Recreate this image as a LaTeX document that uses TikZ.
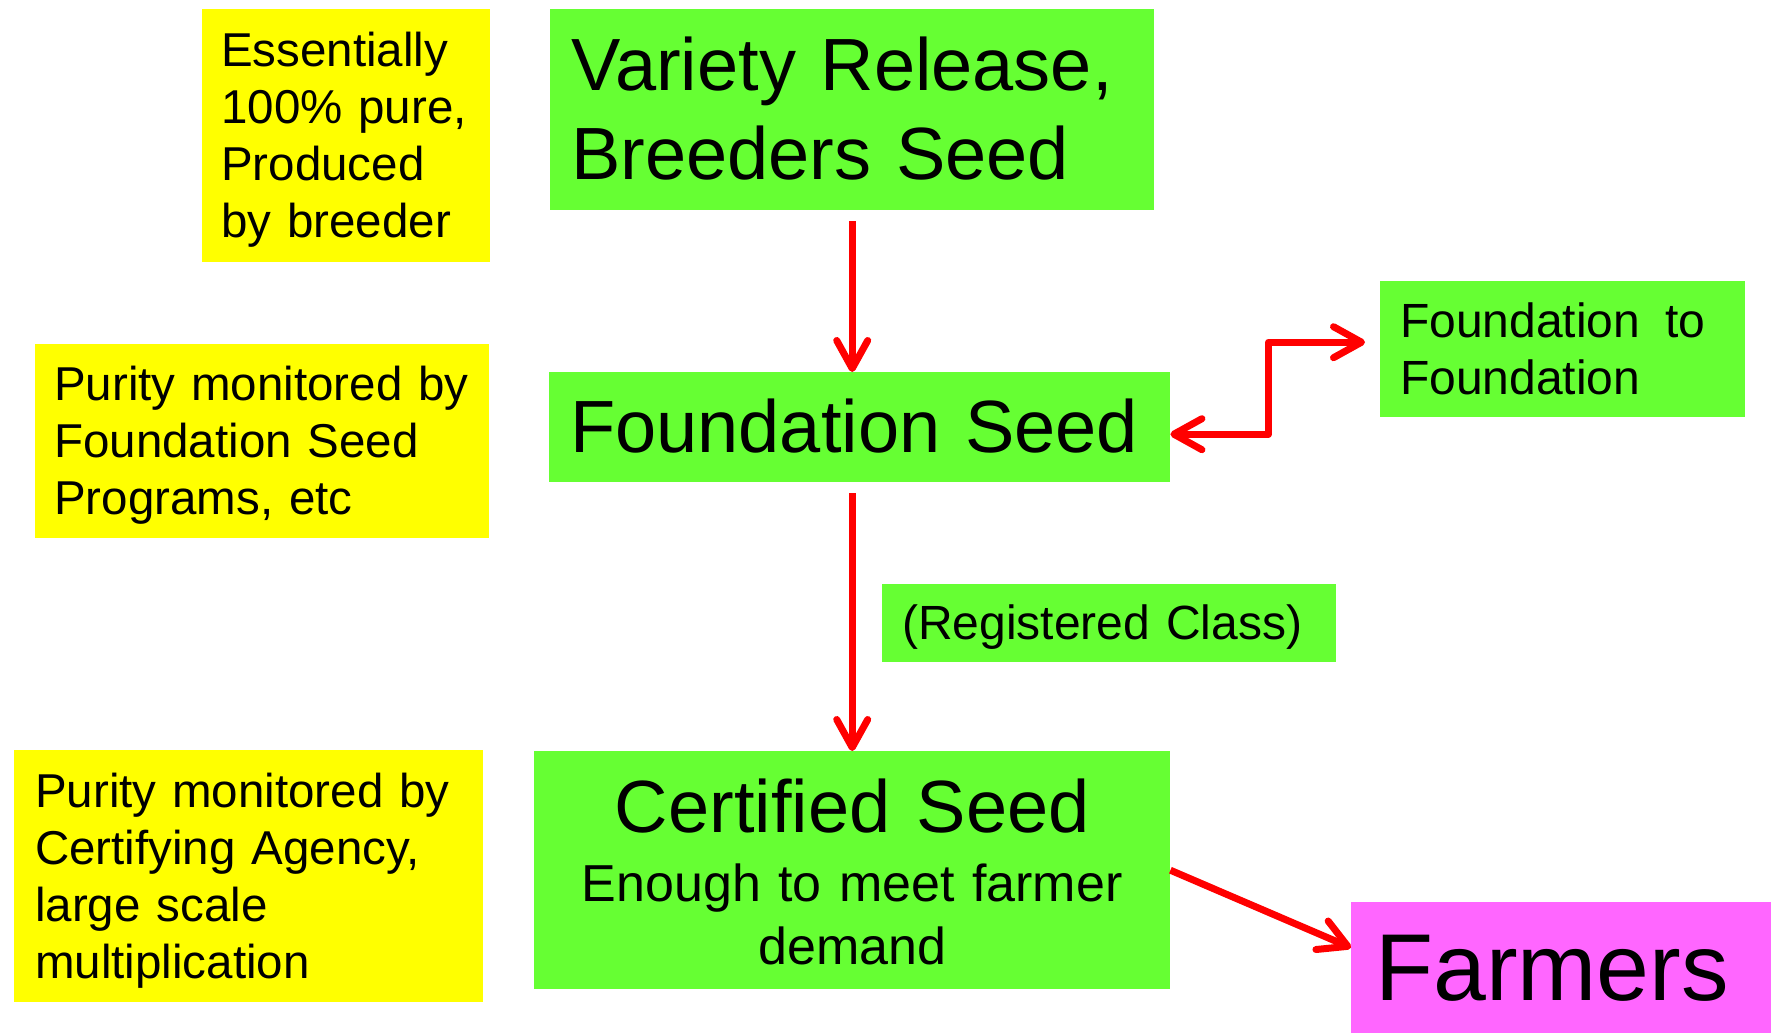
\documentclass[tikz,border=0pt]{standalone}
\usepackage{fontspec}
\setmainfont{Liberation Sans}
\usetikzlibrary{arrows.meta}
\definecolor{seedgreen}{RGB}{102,255,51}
\definecolor{noteyellow}{RGB}{255,255,0}
\definecolor{farmpink}{RGB}{255,102,255}
\definecolor{arrowred}{RGB}{255,0,0}

\begin{document}
\begin{tikzpicture}[x=1pt,y=-1pt,
  >={Straight Barb[length=28pt,width=31pt,round]},
  every edge/.style={draw=arrowred,->,line width=7pt},
  box/.style={anchor=north west,inner ysep=0pt,align=left},
  fs/.style n args={3}{font=\fontsize{#1}{#2}\selectfont,text height=0.905*#1pt,text depth=0.212*#1pt+#3*#2pt},
  green node/.style={box,fill=seedgreen,inner xsep=21pt},
  yellow node/.style={box,fill=noteyellow,inner xsep=19pt},
  note/.style={fs={47.5}{57}{#1}},
  big/.style={fs={74}{88.8}{#1}},
  small/.style={fs={48}{57.6}{#1}}]
  \useasboundingbox (0,0) rectangle (1771,1033);
  \node[green node,big=1,text width=562pt,minimum height=201pt] (1) at (550,9) {Variety Release,\\Breeders Seed};
  \node[green node,big=0,text width=579pt,minimum height=110pt] (2) at (549,372) {Foundation Seed};
  \node[green node,align=center,text width=594pt,minimum height=238pt,fs={52}{63}{0},text height=67pt,text depth=143pt] (3) at (534,751)
    {{\fontsize{74}{88.8}\selectfont\spaceskip=0pt Certified Seed}\\[6pt]Enough to meet farmer\\demand};
  \node[box,fill=farmpink,inner xsep=24pt,text width=372pt,minimum height=131pt,fs={95}{114}{0}] (4) at (1351,902) {Farmers};
  \node[green node,small=1,inner xsep=20pt,text width=325pt,minimum height=136pt] (5) at (1380,281) {Foundation\hspace{25pt}to\\Foundation};
  \node[green node,small=0,inner xsep=20pt,text width=414pt,minimum height=78pt] (6) at (882,584) {(Registered Class)};
  \node[yellow node,note=3,text width=250pt,minimum height=253pt] (7) at (202,9) {Essentially\\100\% pure,\\Produced\\by breeder};
  \node[yellow node,note=2,text width=416pt,minimum height=194pt] (8) at (35,344) {Purity monitored by\\Foundation Seed\\Programs, etc};
  \node[yellow node,note=3,inner xsep=21pt,text width=427pt,minimum height=252pt] (9) at (14,750) {Purity monitored by\\Certifying Agency,\\large scale\\multiplication};
  \path (1.south) edge[shorten <=11pt] (1.south |- 2.north)
        (1.south |- 2.south) edge[shorten <=11pt] (1.south |- 3.north)
        (3.east) edge ([yshift=20pt]4.west);
  \draw[arrowred,line width=7pt,line join=round,<->] ([yshift=-7pt]2.east) -- ++(98,0) |- ([xshift=-15pt,yshift=7pt]5.west);
\end{tikzpicture}
\end{document}
